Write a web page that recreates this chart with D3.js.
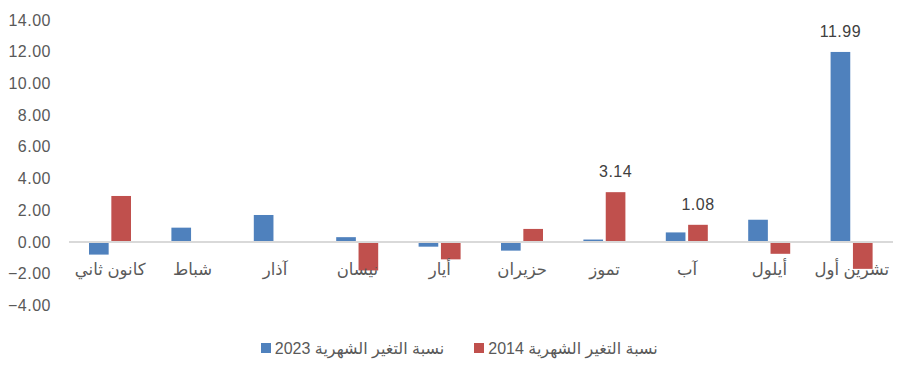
<!DOCTYPE html>
<html><head><meta charset="utf-8">
<script src="https://cdn.jsdelivr.net/npm/d3@7"></script>
<style>
html,body{margin:0;padding:0;background:#fff;}
svg text{font-family:"Liberation Sans","DejaVu Sans",Arial,sans-serif;fill:#595959;}
</style></head>
<body>
<svg id="c" width="912" height="370"></svg>
<script>
const categories = ["كانون ثاني","شباط","آذار","نيسان","أيار","حزيران","تموز","آب","أيلول","تشرين أول"];
const series2023 = [-0.8, 0.9, 1.7, 0.3, -0.3, -0.55, 0.15, 0.6, 1.4, 11.99];
const series2014 = [2.9, -0.03, -0.03, -1.8, -1.1, 0.82, 3.14, 1.08, -0.75, -1.7];
const seriesNames = ["نسبة التغير الشهرية 2023","نسبة التغير الشهرية 2014"];
const seriesColors = ["#4F81BD","#C0504D"];
const yTicks = [-4,-2,0,2,4,6,8,10,12,14];
const labelled = [[false,false,false,false,false,false,false,false,false,true],
                  [false,false,false,false,false,false,true,true,false,false]];

const svg = d3.select("#c");
const x = d3.scaleBand().domain(categories).range([69, 893]).paddingInner(0).paddingOuter(0);
const xs = d3.scaleBand().domain([0,1]).range([20, 62]).paddingInner(0.12);
const y = d3.scaleLinear().domain([-4, 14]).range([305.3, 20.1]);

// y axis labels
const yAxis = d3.axisLeft(y).tickValues(yTicks).tickFormat(d3.format(".2f")).tickSize(0).tickPadding(0);
const ga = svg.append("g").attr("transform","translate(51,0)").call(yAxis);
ga.select(".domain").remove();
ga.selectAll("text").attr("font-size",16).attr("letter-spacing","0.5px").style("fill","#595959")
  .attr("font-family","Liberation Sans, DejaVu Sans, sans-serif");

const data = [series2023, series2014];
data.forEach((vals, si) => {
  svg.append("g").selectAll("rect").data(vals).join("rect")
    .attr("x", (d,i) => x(categories[i]) + xs(si))
    .attr("width", xs.bandwidth())
    .attr("y", d => d >= 0 ? y(d) : y(0))
    .attr("height", d => Math.abs(y(d) - y(0)))
    .attr("fill", seriesColors[si]);
});

// zero line
svg.append("line").attr("x1", 69).attr("x2", 893).attr("y1", y(0)).attr("y2", y(0))
  .attr("stroke","#D9D9D9").attr("stroke-width",2);

// data labels
data.forEach((vals, si) => {
  svg.append("g").selectAll("text").data(vals.map((v,i)=>({v,i})).filter(d=>labelled[si][d.i])).join("text")
    .attr("x", d => x(categories[d.i]) + xs(si) + xs.bandwidth()/2)
    .attr("y", d => y(d.v) - 15)
    .attr("text-anchor","middle")
    .attr("font-size",16).attr("letter-spacing","0.5px")
    .style("fill","#404040")
    .text(d => d3.format(".2f")(d.v));
});

// category labels
svg.append("g").selectAll("text").data(categories).join("text")
  .attr("x", d => x(d) + x.bandwidth()/2)
  .attr("y", 275)
  .attr("text-anchor","middle")
  .attr("font-size",16.5)
  .text(d => d);

// legend
const legendItems = [{sq:261, cx:359.5},{sq:474, cx:573}];
legendItems.forEach((it, si) => {
  svg.append("rect").attr("x", it.sq).attr("y", 343).attr("width",10).attr("height",10).attr("fill", seriesColors[si]);
  svg.append("text").attr("x", it.cx).attr("y", 353.5).attr("text-anchor","middle")
    .attr("direction","rtl").attr("font-size",16).text(seriesNames[si]);
});
</script>
</body></html>
